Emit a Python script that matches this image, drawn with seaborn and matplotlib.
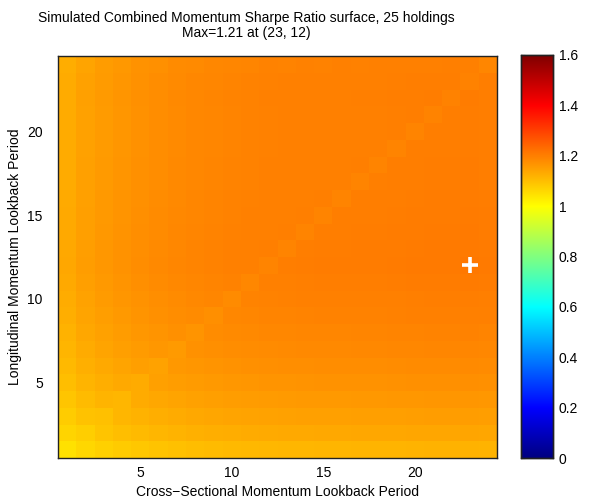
import numpy as np
import pandas as pd
import matplotlib
matplotlib.use("Agg")
import matplotlib.pyplot as plt
from matplotlib.colors import ListedColormap
import seaborn as sns

# Lookback periods (months) for the two momentum signals
xs_lookback = list(range(1, 25))      # cross-sectional lookback (columns)
long_lookback = list(range(24, 0, -1))  # longitudinal lookback (rows, top to bottom)

# Simulated Sharpe ratio per (longitudinal, cross-sectional) lookback pair
sharpe_y24 = [1.128,1.142,1.154,1.160,1.169,1.173,1.180,1.182,1.187,1.189,1.190,1.194,1.193,1.196,1.195,1.197,1.196,1.198,1.197,1.199,1.198,1.201,1.200,1.189]
sharpe_y23 = [1.130,1.146,1.156,1.164,1.171,1.177,1.182,1.186,1.189,1.192,1.194,1.196,1.197,1.198,1.199,1.199,1.200,1.200,1.201,1.202,1.203,1.203,1.194,1.202]
sharpe_y22 = [1.131,1.147,1.157,1.165,1.172,1.178,1.183,1.187,1.190,1.193,1.195,1.197,1.198,1.199,1.200,1.200,1.201,1.201,1.202,1.203,1.204,1.194,1.205,1.203]
sharpe_y21 = [1.130,1.146,1.156,1.164,1.171,1.177,1.182,1.186,1.189,1.192,1.194,1.196,1.197,1.198,1.199,1.199,1.200,1.200,1.201,1.202,1.193,1.203,1.204,1.202]
sharpe_y20 = [1.130,1.146,1.156,1.164,1.171,1.177,1.182,1.186,1.189,1.192,1.194,1.196,1.197,1.198,1.199,1.199,1.200,1.200,1.201,1.192,1.203,1.203,1.204,1.202]
sharpe_y19 = [1.130,1.146,1.156,1.164,1.171,1.177,1.182,1.186,1.189,1.192,1.194,1.196,1.197,1.198,1.199,1.199,1.200,1.200,1.191,1.202,1.203,1.203,1.204,1.202]
sharpe_y18 = [1.131,1.147,1.157,1.165,1.172,1.178,1.183,1.187,1.190,1.193,1.195,1.197,1.198,1.199,1.200,1.200,1.201,1.191,1.202,1.203,1.204,1.204,1.205,1.203]
sharpe_y17 = [1.131,1.147,1.157,1.165,1.172,1.178,1.183,1.187,1.190,1.193,1.195,1.197,1.198,1.199,1.200,1.200,1.191,1.201,1.202,1.203,1.204,1.204,1.205,1.203]
sharpe_y16 = [1.132,1.148,1.158,1.166,1.173,1.179,1.184,1.188,1.191,1.194,1.196,1.198,1.199,1.200,1.201,1.191,1.202,1.202,1.203,1.204,1.205,1.205,1.206,1.204]
sharpe_y15 = [1.133,1.149,1.159,1.167,1.174,1.180,1.185,1.189,1.192,1.195,1.197,1.199,1.200,1.201,1.192,1.202,1.203,1.203,1.204,1.205,1.206,1.206,1.207,1.205]
sharpe_y14 = [1.134,1.150,1.160,1.168,1.175,1.181,1.186,1.190,1.193,1.196,1.198,1.200,1.201,1.192,1.203,1.203,1.204,1.204,1.205,1.206,1.207,1.207,1.208,1.206]
sharpe_y13 = [1.135,1.151,1.161,1.169,1.176,1.182,1.187,1.191,1.194,1.197,1.199,1.201,1.192,1.203,1.204,1.204,1.205,1.205,1.206,1.207,1.208,1.208,1.209,1.207]
sharpe_y12 = [1.136,1.152,1.162,1.170,1.177,1.183,1.188,1.192,1.195,1.198,1.200,1.192,1.203,1.204,1.205,1.205,1.206,1.206,1.207,1.208,1.209,1.209,1.212,1.208]
sharpe_y11 = [1.133,1.149,1.159,1.167,1.174,1.180,1.185,1.189,1.192,1.195,1.187,1.199,1.200,1.201,1.202,1.202,1.203,1.203,1.204,1.205,1.206,1.206,1.207,1.205]
sharpe_y10 = [1.129,1.145,1.155,1.163,1.170,1.176,1.181,1.185,1.188,1.181,1.193,1.195,1.196,1.197,1.198,1.198,1.199,1.199,1.200,1.201,1.202,1.202,1.203,1.201]
sharpe_y9  = [1.125,1.141,1.151,1.159,1.166,1.172,1.177,1.181,1.174,1.187,1.189,1.191,1.192,1.193,1.194,1.194,1.195,1.195,1.196,1.197,1.198,1.198,1.199,1.197]
sharpe_y8  = [1.120,1.136,1.146,1.154,1.161,1.167,1.172,1.166,1.179,1.182,1.184,1.186,1.187,1.188,1.189,1.189,1.190,1.190,1.191,1.192,1.193,1.193,1.194,1.192]
sharpe_y7  = [1.115,1.131,1.141,1.149,1.156,1.162,1.157,1.171,1.174,1.177,1.179,1.181,1.182,1.183,1.184,1.184,1.185,1.185,1.186,1.187,1.188,1.188,1.189,1.187]
sharpe_y6  = [1.108,1.124,1.134,1.142,1.149,1.145,1.160,1.164,1.167,1.170,1.172,1.174,1.175,1.176,1.177,1.177,1.178,1.178,1.179,1.180,1.181,1.181,1.182,1.180]
sharpe_y5  = [1.100,1.116,1.126,1.134,1.131,1.147,1.152,1.156,1.159,1.162,1.164,1.166,1.167,1.168,1.169,1.169,1.170,1.170,1.171,1.172,1.173,1.173,1.174,1.172]
sharpe_y4  = [1.090,1.106,1.116,1.114,1.131,1.137,1.142,1.146,1.149,1.152,1.154,1.156,1.157,1.158,1.159,1.159,1.160,1.160,1.161,1.162,1.163,1.163,1.164,1.162]
sharpe_y3  = [1.079,1.095,1.098,1.113,1.120,1.126,1.131,1.135,1.138,1.141,1.143,1.145,1.146,1.147,1.148,1.148,1.149,1.149,1.150,1.151,1.152,1.152,1.153,1.151]
sharpe_y2  = [1.066,1.076,1.092,1.100,1.107,1.113,1.118,1.122,1.125,1.128,1.130,1.132,1.133,1.134,1.135,1.135,1.136,1.136,1.137,1.138,1.139,1.139,1.140,1.138]
sharpe_y1  = [1.046,1.062,1.072,1.080,1.087,1.093,1.098,1.102,1.105,1.108,1.110,1.112,1.113,1.114,1.115,1.115,1.116,1.116,1.117,1.118,1.119,1.119,1.120,1.118]

rows = [sharpe_y24, sharpe_y23, sharpe_y22, sharpe_y21, sharpe_y20, sharpe_y19,
        sharpe_y18, sharpe_y17, sharpe_y16, sharpe_y15, sharpe_y14, sharpe_y13,
        sharpe_y12, sharpe_y11, sharpe_y10, sharpe_y9, sharpe_y8, sharpe_y7,
        sharpe_y6, sharpe_y5, sharpe_y4, sharpe_y3, sharpe_y2, sharpe_y1]
surface = pd.DataFrame(rows, index=long_lookback, columns=xs_lookback)

holdings = 25
tick_periods = [5, 10, 15, 20]
cbar_ticks = [0, 0.2, 0.4, 0.6, 0.8, 1.0, 1.2, 1.4, 1.6]


def matlab_jet(n=1024):
    """Classic MATLAB 'jet' colour table."""
    m = int(np.ceil(n / 4))
    u = np.concatenate([np.arange(1, m + 1) / m, np.ones(m - 1), np.arange(m, 0, -1) / m])
    g = int(np.ceil(m / 2)) - (1 if n % 4 == 1 else 0) + np.arange(1, len(u) + 1)
    r = g + m
    b = g - m
    r = r[r <= n]
    g = g[g <= n]
    b = b[b >= 1]
    J = np.zeros((n, 3))
    J[r - 1, 0] = u[:len(r)]
    J[g - 1, 1] = u[:len(g)]
    J[b - 1, 2] = u[len(u) - len(b):]
    return ListedColormap(J, name="matlab_jet")


sns.set_theme(style="white")
plt.rcParams["font.family"] = ["Liberation Sans", "DejaVu Sans"]
plt.rcParams["font.size"] = 10
plt.rcParams["text.color"] = "black"
plt.rcParams["axes.labelcolor"] = "black"

W, H = 590, 499
fig = plt.figure(figsize=(W / 100, H / 100), dpi=100)
ax = fig.add_axes([58 / W, (H - 458) / H, 439 / W, 402 / H])
cax = fig.add_axes([521 / W, (H - 458) / H, 32 / W, 403 / H])

sns.heatmap(surface, cmap=matlab_jet(1024), vmin=0, vmax=1.6, ax=ax, cbar_ax=cax,
            xticklabels=False, yticklabels=False, square=False)

# location of the best combination
r, c = np.unravel_index(np.argmax(surface.values), surface.shape)
best = surface.values[r, c]
best_x, best_y = surface.columns[c], surface.index[r]
ax.plot(c + 0.5, r + 0.5, marker="+", color="white", markersize=12, mew=2.6)

# ticks at lookback values (cell centres)
ax.set_xticks([xs_lookback.index(p) + 0.5 for p in tick_periods])
ax.set_xticklabels([str(p) for p in tick_periods])
ax.set_yticks([long_lookback.index(p) + 0.5 for p in tick_periods])
ax.set_yticklabels([str(p) for p in tick_periods], rotation=0)
ax.tick_params(direction="in", length=4, width=0.8, colors="black",
               top=True, right=True, bottom=True, left=True,
               labelsize=10, pad=6)
ax.tick_params(axis="y", pad=11)
for sp in ax.spines.values():
    sp.set_visible(True)
    sp.set_linewidth(1.0)
    sp.set_color("#222222")

ax.set_xlabel("Cross\u2212Sectional Momentum Lookback Period", fontsize=10, labelpad=3)
ax.set_ylabel("Longitudinal Momentum Lookback Period", fontsize=10, labelpad=4)

fig.text(246 / W, 1 - 18 / H,
         f"Simulated Combined Momentum Sharpe Ratio surface, {holdings} holdings",
         ha="center", va="center", fontsize=10)
fig.text(246 / W, 1 - 33 / H, f"Max={best:.2f} at ({best_x}, {best_y})",
         ha="center", va="center", fontsize=10)

cax.set_yticks(cbar_ticks)
cax.set_yticklabels([f"{t:g}" for t in cbar_ticks])
cax.tick_params(direction="in", length=3, width=0.8, left=True, right=True,
                labelsize=10, colors="black", pad=4)
for sp in cax.spines.values():
    sp.set_visible(True)
    sp.set_linewidth(1.0)
    sp.set_color("#222222")

fig.savefig("out.png", dpi=100)
